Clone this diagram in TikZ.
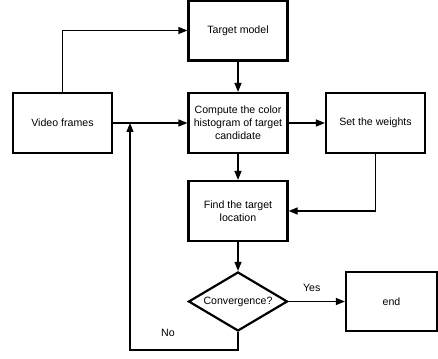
\documentclass[tikz,border=0pt]{standalone}
\usepackage{fontspec}
\setmainfont{Liberation Sans}
\usetikzlibrary{arrows.meta,shapes.geometric}
\begin{document}
\begin{tikzpicture}[x=1pt,y=-1pt,
  box/.style={draw,line width=2.2pt,minimum width=99pt,minimum height=60pt,inner sep=0pt,align=center,font=\fontsize{10.6pt}{13pt}\selectfont},
  dia/.style={draw,line width=2.2pt,diamond,minimum width=99pt,minimum height=59pt,inner sep=0pt,font=\fontsize{10.6pt}{13pt}\selectfont},
  conn/.style={line width=1.2pt,-{Triangle[length=9pt,width=7pt]}},
  lbl/.style={font=\fontsize{10.6pt}{12pt}\selectfont}]
\useasboundingbox (0,0) rectangle (438,358);
\node[box] (tm) at (238,30.5) {Target model};
\node[box] (vf) at (62.5,123) {Video frames};
\node[box] (ch) at (238,123) {Compute the color\\histogram of target\\candidate};
\node[box] (sw) at (375.5,123) {Set the weights};
\node[box] (fl) at (238,211) {Find the target\\location};
\node[dia,shape aspect=1.68] (cv) at (238,301.5) {Convergence?};
\node[box,minimum width=91pt,minimum height=59pt] (en) at (391.5,301.5) {end};
\coordinate (j) at (130,123);
\draw[conn] (vf.north) |- (tm.west);
\draw[conn] (vf.east) -- (ch.west);
\draw[conn] (tm.south) -- (ch.north);
\draw[conn] (ch.east) -- (sw.west);
\draw[conn] (ch.south) -- (fl.north);
\draw[conn] (sw.south) |- (fl.east);
\draw[conn] (fl.south) -- (cv.north);
\draw[conn] (cv.east) -- node[lbl,above=6pt,xshift=-5pt] {Yes} (en.west);
\draw[conn] (cv.south) -- (238,350) -- (130,350) -- (j);
\node[lbl] (no) at (168,333) {No};
\end{tikzpicture}
\end{document}
